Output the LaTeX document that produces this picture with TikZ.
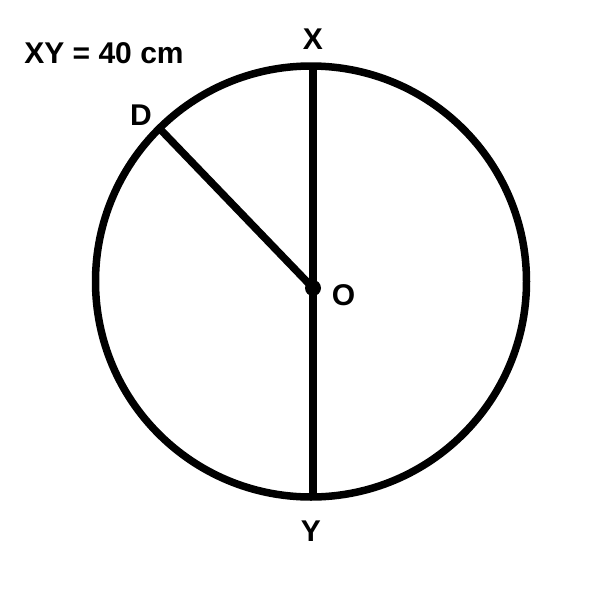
\documentclass[tikz,border=0pt]{standalone}
\usepackage{fontspec}
\setmainfont{Liberation Sans}
\begin{document}
\begin{tikzpicture}[x=1pt,y=-1pt,
  stroke/.style={line width=7.5pt,black},
  lbl/.style={font=\fontsize{30}{32}\selectfont\bfseries,inner sep=0pt}]
\useasboundingbox[fill=white] (0,0) rectangle (600,600);
\coordinate (C) at (311,281.5);
\coordinate (Xp) at (313,66.5);
\coordinate (Yp) at (313,496.5);
\coordinate (Op) at (313,288);
\coordinate (Dp) at (160,129);
\draw[stroke] (C) circle[radius=215.5];
\draw[stroke] (Xp) -- (Yp);
\draw[stroke] (Dp) -- (Op);
\fill (Op) circle[radius=8];
\node[lbl] (title) at (104,53) {XY = 40 cm};
\node[lbl] (X) at (313,39) {X};
\node[lbl] (Y) at (311,531) {Y};
\node[lbl] (D) at (141,115) {D};
\node[lbl] (O) at (343.5,295) {O};
\end{tikzpicture}
\end{document}
